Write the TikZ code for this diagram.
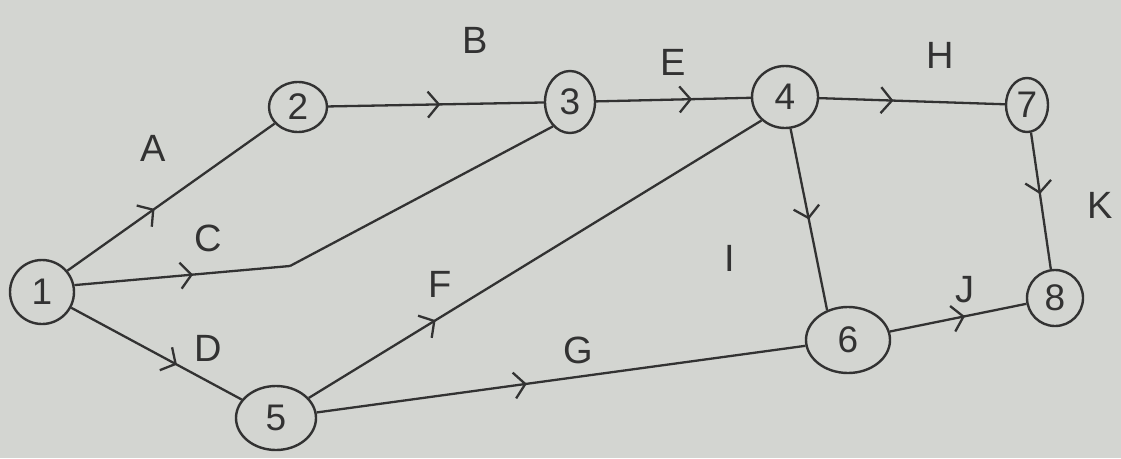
\documentclass[tikz,border=0pt]{standalone}
\usepackage{fontspec}
\setmainfont{Liberation Sans}
\usetikzlibrary{shapes.geometric,arrows.meta,decorations.markings}
\definecolor{pencil}{RGB}{50,50,50}
\definecolor{paper}{RGB}{211,213,209}
\tikzset{
  ev/.style={ellipse, draw=pencil, line width=2.4pt, inner sep=0pt, text=pencil,
    font=\fontsize{37}{37}\selectfont},
  act/.style={draw=pencil, line width=2.3pt},
  midarrow/.style={postaction={decorate, decoration={markings,
    mark=at position #1 with {\arrow[pencil, line width=2.3pt]{Straight Barb[length=11pt,width=26pt]}}}}},
  lab/.style={text=pencil, font=\fontsize{38}{38}\selectfont}
}
\begin{document}
\begin{tikzpicture}[x=1pt,y=-1pt]
\fill[paper] (0,0) rectangle (1121,458);
\useasboundingbox (0,0) rectangle (1121,458);
% events
\node[ev, minimum width=64pt, minimum height=64pt] (n1) at (42,292) {1};
\node[ev, minimum width=58pt, minimum height=50pt] (n2) at (298,107) {2};
\node[ev, minimum width=50pt, minimum height=62pt] (n3) at (570,102) {3};
\node[ev, minimum width=66pt, minimum height=62pt] (n4) at (785,97) {4};
\node[ev, minimum width=42pt, minimum height=54pt] (n7) at (1027,105) {7};
\node[ev, minimum width=56pt, minimum height=56pt] (n8) at (1055,298) {8};
\node[ev, minimum width=84pt, minimum height=66pt] (n6) at (848,340) {6};
\node[ev, minimum width=80pt, minimum height=64pt] (n5) at (276,418) {5};
\coordinate (cbend) at (290,266);
% activities
\draw[act, midarrow=0.42] (n1.40) -- (n2);
\draw[act, midarrow=0.52] (n2) -- (n3);
\draw[act, midarrow=0.55] (n1.12) -- (cbend);
\draw[act] (cbend) -- (n3.235);
\draw[act, midarrow=0.62] (n1) -- (n5);
\draw[act, midarrow=0.62] (n3) -- (n4);
\draw[act, midarrow=0.4] (n4) -- (n7);
\draw[act, midarrow=0.45] (n7) -- (n8);
\draw[act, midarrow=0.28] (n5) -- (n4.225);
\draw[act, midarrow=0.43] (n5) -- (n6);
\draw[act, midarrow=0.5] (n4.280) -- (n6.125);
\draw[act, midarrow=0.55] (n6) -- (n8);
% labels
\node[lab] (lA) at (153,148) {A};
\node[lab] (lB) at (475,40) {B};
\node[lab] (lC) at (208,238) {C};
\node[lab] (lD) at (208,348) {D};
\node[lab] (lE) at (673,62) {E};
\node[lab] (lF) at (440,284) {F};
\node[lab] (lG) at (578,350) {G};
\node[lab] (lH) at (940,55) {H};
\node[lab] (lI) at (730,258) {I};
\node[lab] (lJ) at (965,290) {J};
\node[lab] (lK) at (1100,205) {K};
\end{tikzpicture}
\end{document}
